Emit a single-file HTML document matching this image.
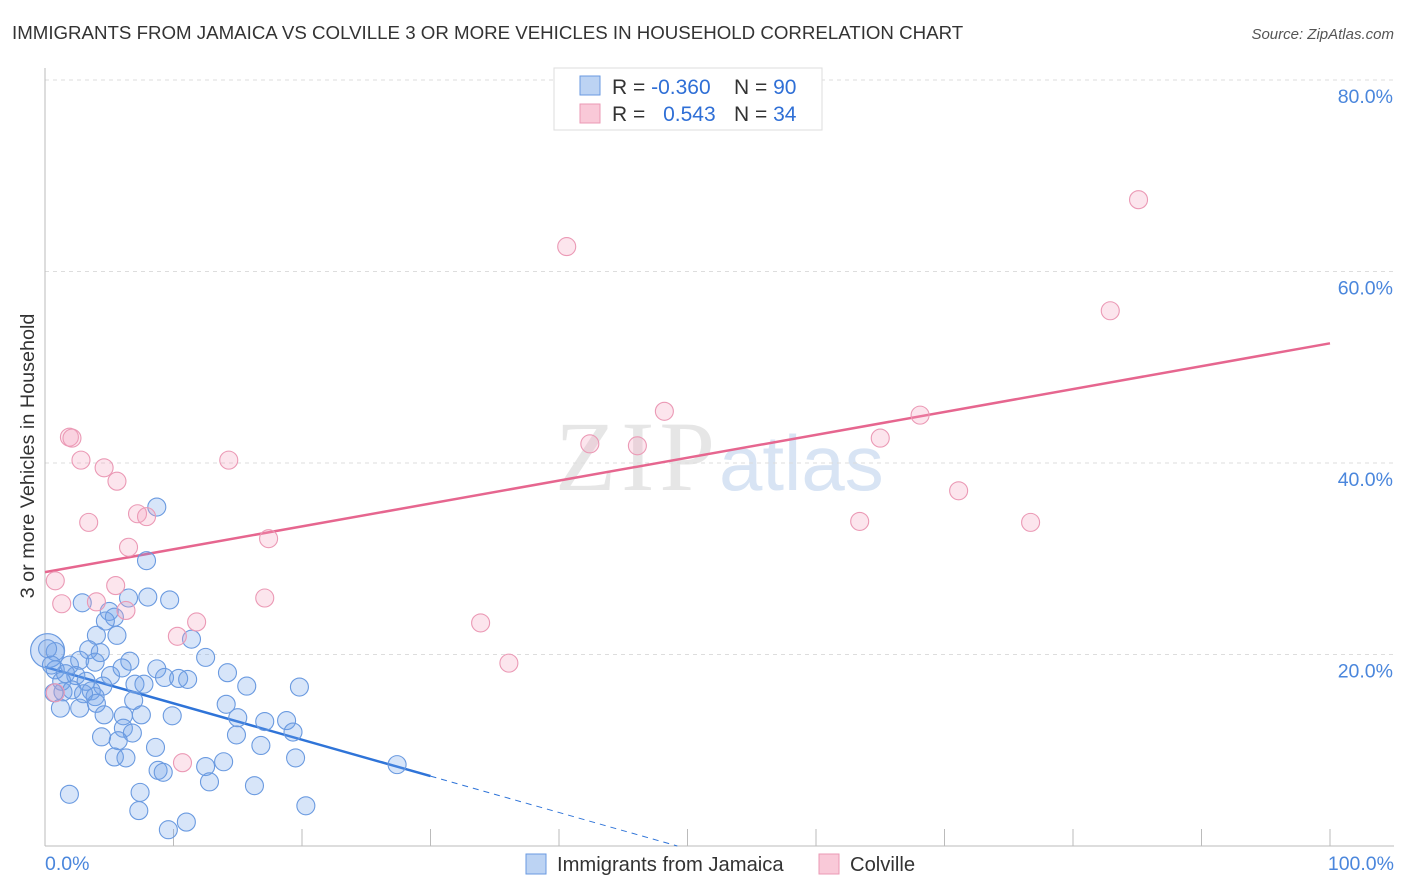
<!DOCTYPE html>
<html><head><meta charset="utf-8"><style>
body{margin:0;background:#fff;font-family:"Liberation Sans",sans-serif;}
svg{display:block}
</style></head><body>
<svg id="chart" width="1406" height="892" font-family="Liberation Sans, sans-serif">
<text x="12" y="39" font-size="18.7" fill="#333">IMMIGRANTS FROM JAMAICA VS COLVILLE 3 OR MORE VEHICLES IN HOUSEHOLD CORRELATION CHART</text>
<text x="1394" y="39" font-size="15" fill="#555" font-style="italic" text-anchor="end">Source: ZipAtlas.com</text>
<text transform="translate(34,456) rotate(-90)" font-size="19.8" fill="#333" text-anchor="middle">3 or more Vehicles in Household</text>
<g>
<text x="555" y="490" font-size="100" font-family="Liberation Serif, serif" fill="#e6e6e6" textLength="160">ZIP</text>
<text x="719" y="490" font-size="78" fill="#d8e4f4">atlas</text>
</g>
<g id="grid"></g>
<g id="axes"></g>
<g id="trend"></g>
<g id="pts"></g>
<g>
<rect x="554" y="68" width="268" height="62" fill="#fff" stroke="#ddd"/>
<rect x="580" y="76" width="20" height="19" fill="#bcd3f3" stroke="#6a9ae0"/>
<rect x="580" y="104" width="20" height="19" fill="#f9c9d8" stroke="#eb99b5"/>
<text x="612" y="94" font-size="21" fill="#333">R = <tspan fill="#2f6fd6">-0.360</tspan></text>
<text x="734" y="94" font-size="21" fill="#333">N = <tspan fill="#2f6fd6">90</tspan></text>
<text x="612" y="121" font-size="21" fill="#333">R = <tspan fill="#2f6fd6" dx="12">0.543</tspan></text>
<text x="734" y="121" font-size="21" fill="#333">N = <tspan fill="#2f6fd6">34</tspan></text>
</g>
<g>
<rect x="526" y="854" width="20" height="20" fill="#bcd3f3" stroke="#6a9ae0"/>
<text x="557" y="871" font-size="20.2" fill="#333">Immigrants from Jamaica</text>
<rect x="819" y="854" width="20" height="20" fill="#f9c9d8" stroke="#eb99b5"/>
<text x="850" y="871" font-size="20.2" fill="#333">Colville</text>
</g>
</svg>
<script>
const yTicks=[20,40,60,80];
const yTickLabels=["20.0%","40.0%","60.0%","80.0%"];
const xTicks=[0,10,20,30,40,50,60,70,80,90,100];
const xEndLabels=["0.0%","100.0%"];
const blueX=[8.7,7.9,2.9,6.5,8.0,9.7,5.0,5.4,4.0,5.6,11.4,4.7,3.4,4.3,12.5,1.9,2.7,3.9,6.6,8.7,14.2,5.1,6.0,0.8,2.4,1.3,3.2,4.5,7.0,7.7,9.3,10.4,11.1,15.7,19.8,0.7,1.4,3.6,3.9,6.9,4.0,14.1,1.2,2.7,4.6,6.1,7.5,9.9,15.0,17.1,18.8,6.1,6.8,14.9,19.3,4.4,5.7,8.6,16.8,5.4,6.3,8.8,9.2,12.5,13.9,19.5,27.4,12.8,16.3,1.9,7.4,7.3,20.3,9.6,11.0,0.8,0.2,0.5,1.6,2.1,3.0];
const blueY=[35.4,29.8,25.4,25.9,26.0,25.7,24.5,23.9,22.0,22.0,21.6,23.5,20.5,20.2,19.7,18.9,19.4,19.2,19.3,18.5,18.1,17.8,18.6,18.4,17.8,17.2,17.2,16.7,16.9,16.9,17.6,17.5,17.4,16.7,16.6,16.0,16.1,16.2,15.6,15.2,14.9,14.8,14.4,14.4,13.7,13.6,13.7,13.6,13.4,13.0,13.1,12.3,11.8,11.6,11.9,11.4,11.0,10.3,10.5,9.3,9.2,7.9,7.7,8.3,8.8,9.2,8.5,6.7,6.3,5.4,5.6,3.7,4.2,1.7,2.5,20.3,20.6,18.9,18.0,16.3,15.9];
const pinkX=[40.6,85.1,82.9,48.2,68.1,65.0,42.4,46.1,1.9,2.1,2.8,4.6,14.3,5.6,71.1,3.4,7.2,7.9,63.4,76.7,6.5,17.4,0.8,5.5,1.3,4.0,6.3,17.1,11.8,10.3,33.9,36.1,10.7,0.8];
const pinkY=[62.6,67.5,55.9,45.4,45.0,42.6,42.0,41.8,42.7,42.6,40.3,39.5,40.3,38.1,37.1,33.8,34.7,34.4,33.9,33.8,31.2,32.1,27.7,27.2,25.3,25.5,24.6,25.9,23.4,21.9,23.3,19.1,8.7,16.0];
const blueTrend=[18.7,-0.38];
const pinkTrend=[28.6,0.239];

const NS="http://www.w3.org/2000/svg";
const X=v=>45+v*12.85, Y=v=>846-v*9.575;
function mk(p,tag,at){const e=document.createElementNS(NS,tag);for(const k in at)e.setAttribute(k,at[k]);p.appendChild(e);return e;}
const grid=document.getElementById('grid'),axes=document.getElementById('axes'),trend=document.getElementById('trend'),pts=document.getElementById('pts');
yTicks.forEach((t,i)=>{
  const l=mk(grid,'line',{x1:45,x2:1394,y1:Y(t),y2:Y(t),stroke:'#ddd','stroke-dasharray':'4,4'});
  
  
  const tx=mk(axes,'text',{x:1393,y:Y(t)+23,'font-size':19.5,fill:'#4a86dc','text-anchor':'end'});tx.textContent=yTickLabels[i];
  
  
});
mk(axes,'line',{x1:45,x2:45,y1:68,y2:846,stroke:'#bbb'});
mk(axes,'line',{x1:45,x2:1394,y1:846,y2:846,stroke:'#bbb'});
xTicks.forEach(t=>{const l=mk(axes,'line',{x1:X(t),x2:X(t),y1:829,y2:846,stroke:'#bbb'});
  
  });
const xl0=mk(axes,'text',{x:45,y:870,'font-size':19.5,fill:'#4a86dc'});xl0.textContent=xEndLabels[0];


const xl1=mk(axes,'text',{x:1394,y:870,'font-size':19.5,fill:'#4a86dc','text-anchor':'end'});xl1.textContent=xEndLabels[1];



const big=mk(pts,'circle',{cx:X(0.2),cy:Y(20.4),r:17,fill:'rgba(110,160,235,0.3)',stroke:'#6a9ae0','stroke-width':1.2});


blueX.forEach((x,i)=>{const c=mk(pts,'circle',{cx:X(x),cy:Y(blueY[i]),r:9,fill:'rgba(110,160,235,0.28)',stroke:'#6a9ae0','stroke-width':1.1});
  
  });
pinkX.forEach((x,i)=>{const c=mk(pts,'circle',{cx:X(x),cy:Y(pinkY[i]),r:9,fill:'rgba(245,160,190,0.28)',stroke:'#eb99b5','stroke-width':1.1});
  
  });
const bz=-blueTrend[0]/blueTrend[1];
const b1=mk(trend,'line',{x1:X(0),y1:Y(blueTrend[0]),x2:X(30),y2:Y(blueTrend[0]+blueTrend[1]*30),stroke:'#2f74d8','stroke-width':2.5});


const b2=mk(trend,'line',{x1:X(30),y1:Y(blueTrend[0]+blueTrend[1]*30),x2:X(bz),y2:Y(0),stroke:'#2f74d8','stroke-width':1,'stroke-dasharray':'6,5'});


const p1=mk(trend,'line',{x1:X(0),y1:Y(pinkTrend[0]),x2:X(100),y2:Y(pinkTrend[0]+pinkTrend[1]*100),stroke:'#e6668f','stroke-width':2.5});


</script>
</body></html>
